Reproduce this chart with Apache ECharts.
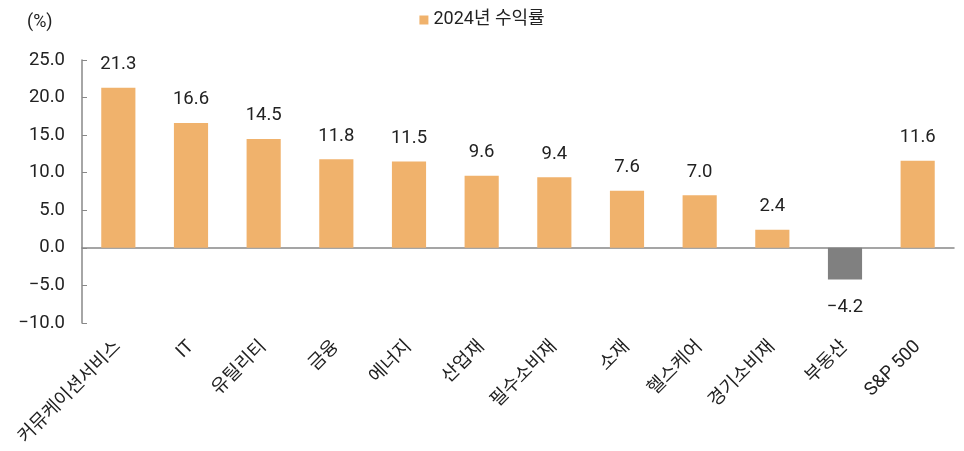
<!DOCTYPE html>
<html><head><meta charset="utf-8">
<script src="https://cdn.jsdelivr.net/npm/echarts@6/dist/echarts.min.js"></script>
<style>html,body{margin:0;padding:0;background:#fff}#c{width:964px;height:451px}</style>
</head><body><div id="c"></div>
<script>
const categories = ['커뮤케이션서비스','IT','유틸리티','금융','에너지','산업재','필수소비재','소재','헬스케어','경기소비재','부동산','S&P 500'];
const values = [21.3, 16.6, 14.5, 11.8, 11.5, 9.6, 9.4, 7.6, 7.0, 2.4, -4.2, 11.6];
const seriesName = '2024년 수익률';
const yTicks = {min: -10, max: 25, interval: 5};

const FONT = 'Roboto, "Noto Sans CJK KR", sans-serif';
const FS = 18.5;
const fmt = v => (v < 0 ? '\u2212' + Math.abs(v).toFixed(1) : v.toFixed(1));
const chart = echarts.init(document.getElementById('c'));
chart.setOption({
  animation: false,
  textStyle: {fontFamily: FONT},
  legend: {
    top: 6, left: 'center', itemWidth: 9, itemHeight: 9, itemGap: 6,
    icon: 'rect',
    textStyle: {fontSize: 18, color: '#222', fontFamily: FONT},
    data: [{name: seriesName, itemStyle: {color: '#F0B26C'}}]
  },
  grid: {left: 82, right: 10, top: 60, bottom: 128, containLabel: false, outerBoundsMode: 'none'},
  graphic: [{type: 'text', left: 27, top: 14, style: {text: '(%)', fontSize: 18, fill: '#222', fontFamily: FONT}}],
  xAxis: {
    type: 'category', data: categories,
    axisLine: {onZero: true, lineStyle: {color: '#888', width: 1.5}},
    axisTick: {inside: true, length: 5, lineStyle: {color: '#888'}},
    axisLabel: {rotate: 45, margin: 21, fontSize: FS, color: '#222', interval: 0, fontFamily: FONT}
  },
  yAxis: {
    type: 'value', min: yTicks.min, max: yTicks.max, interval: yTicks.interval,
    axisLine: {show: true, lineStyle: {color: '#888', width: 1.5}},
    axisTick: {show: true, inside: true, length: 5, lineStyle: {color: '#888'}},
    splitLine: {show: false},
    axisLabel: {formatter: fmt, fontSize: FS, color: '#222', margin: 17, fontFamily: FONT}
  },
  series: [{
    name: seriesName, type: 'bar', barWidth: '47%',
    data: values.map(v => ({value: v, itemStyle: {color: v < 0 ? '#808080' : '#F0B26C'},
      label: {position: v < 0 ? 'bottom' : 'top', distance: v < 0 ? 19 : 14}})),
    label: {show: true, fontSize: FS, color: '#222', fontFamily: FONT, formatter: p => fmt(p.value)}
  }]
});
</script></body></html>
